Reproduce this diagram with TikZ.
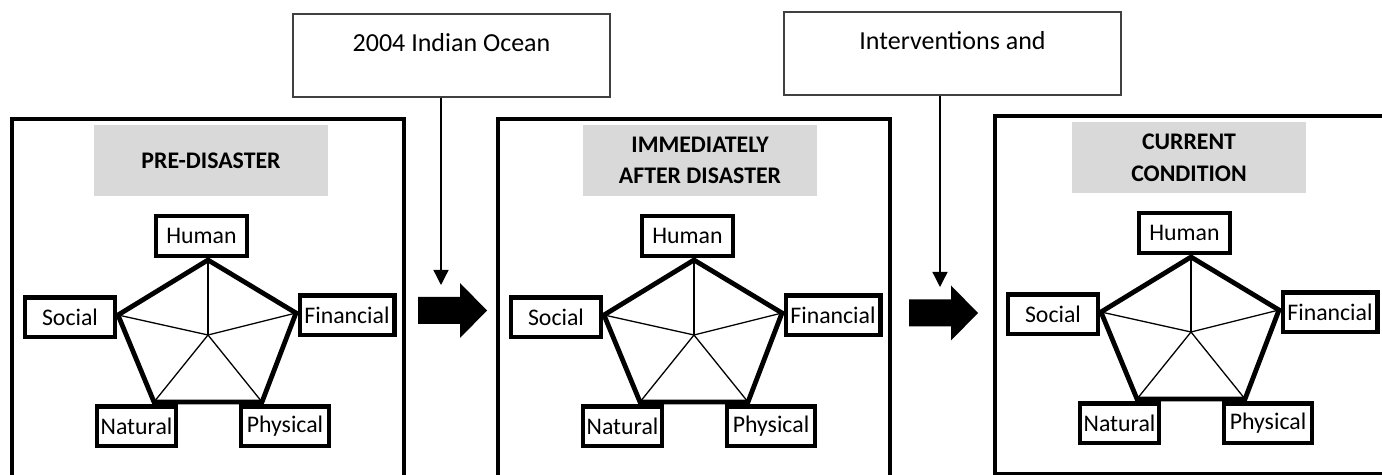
\documentclass[tikz,border=0pt]{standalone}
\usepackage{fontspec}
\setmainfont{Carlito}
\usetikzlibrary{arrows.meta, positioning}
\definecolor{titlegray}{HTML}{D9D9D9}

\begin{document}
\begin{tikzpicture}[x=0.5pt, y=-0.5pt,
    frame/.style={line width=2.3pt},
    titlebox/.style={fill=titlegray, minimum width=117pt, minimum height=35.5pt,
        align=center, inner sep=0pt, font=\fontsize{11.9}{15.8}\selectfont\bfseries},
    capital/.style={draw, line width=2.2pt, minimum height=19.8pt, inner sep=0pt,
        font=\fontsize{11.9}{14}\selectfont},
    eventbox/.style={draw=black!75, line width=0.6pt, align=center, inner sep=0pt,
        minimum height=41.5pt, font=\fontsize{13}{13.5}\selectfont}
]
    \useasboundingbox (0,0) rectangle (1382,475);
    \clip (0,0) rectangle (1382,475);

    % The three panels
    \foreach \dx/\dy/\tx/\p/\ttl in {0/0/211/a/{PRE-DISASTER},
        486/0/214/b/{IMMEDIATELY\\AFTER DISASTER},
        983/-3/206/c/{CURRENT\\CONDITION}} {
        \begin{scope}[shift={(\dx,\dy)}]
            \draw[frame] (12,119) rectangle (404,477);
            \node[titlebox] (\p-title) at (\tx,160.5) {\ttl};

            % Capital labels
            \node[capital, minimum width=45.3pt] (\p-human) at (201.5,236) {Human};
            \node[capital, minimum width=44.8pt] (\p-social) at (70,317.5) {Social};
            \node[capital, minimum width=47.3pt] (\p-fin) at (347,315.5) {Financial};
            \node[capital, minimum width=39.3pt] (\p-nat) at (136.5,426.5) {Natural};
            \node[capital, minimum width=43.8pt] (\p-phys) at (285,426.5) {Physical};

            % Pentagon
            \coordinate (\p-c) at (208,335);
            \coordinate (\p-1) at (208,260);
            \coordinate (\p-2) at (296,313);
            \coordinate (\p-3) at (262,402);
            \coordinate (\p-4) at (154,402);
            \coordinate (\p-5) at (118,315);
            \foreach \v in {1,...,5}
                \draw[line width=0.65pt] (\p-c) -- (\p-\v);
            \draw[line width=2.4pt] (\p-1) -- (\p-2) -- (\p-3) -- (\p-4) -- (\p-5) -- cycle;
        \end{scope}
    }

    % Events between panels
    \node[eventbox, minimum width=158.5pt] (ev1) at (451.5,55.5) {2004 Indian Ocean\\~};
    \node[eventbox, minimum width=168.5pt] (ev2) at (952.5,53.5) {Interventions and\\~};
    \coordinate (hit1) at (441,285);
    \coordinate (hit2) at (940,287);
    \draw[line width=0.65pt, -{Triangle[width=7.5pt, length=7.5pt]}] (ev1.south -| hit1) -- (hit1);
    \draw[line width=0.65pt, -{Triangle[width=7.5pt, length=7.5pt]}] (ev2.south -| hit2) -- (hit2);

    % Block arrows
    \coordinate (push1) at (418,310.5);
    \coordinate (push2) at (909,313);
    \foreach \a in {push1,push2}
        \fill (\a) ++(0,-13.5) -- ++(42,0) -- ++(0,-14) -- ++(27,27.5)
            -- ++(-27,27.5) -- ++(0,-14) -- ++(-42,0) -- cycle;
\end{tikzpicture}
\end{document}
